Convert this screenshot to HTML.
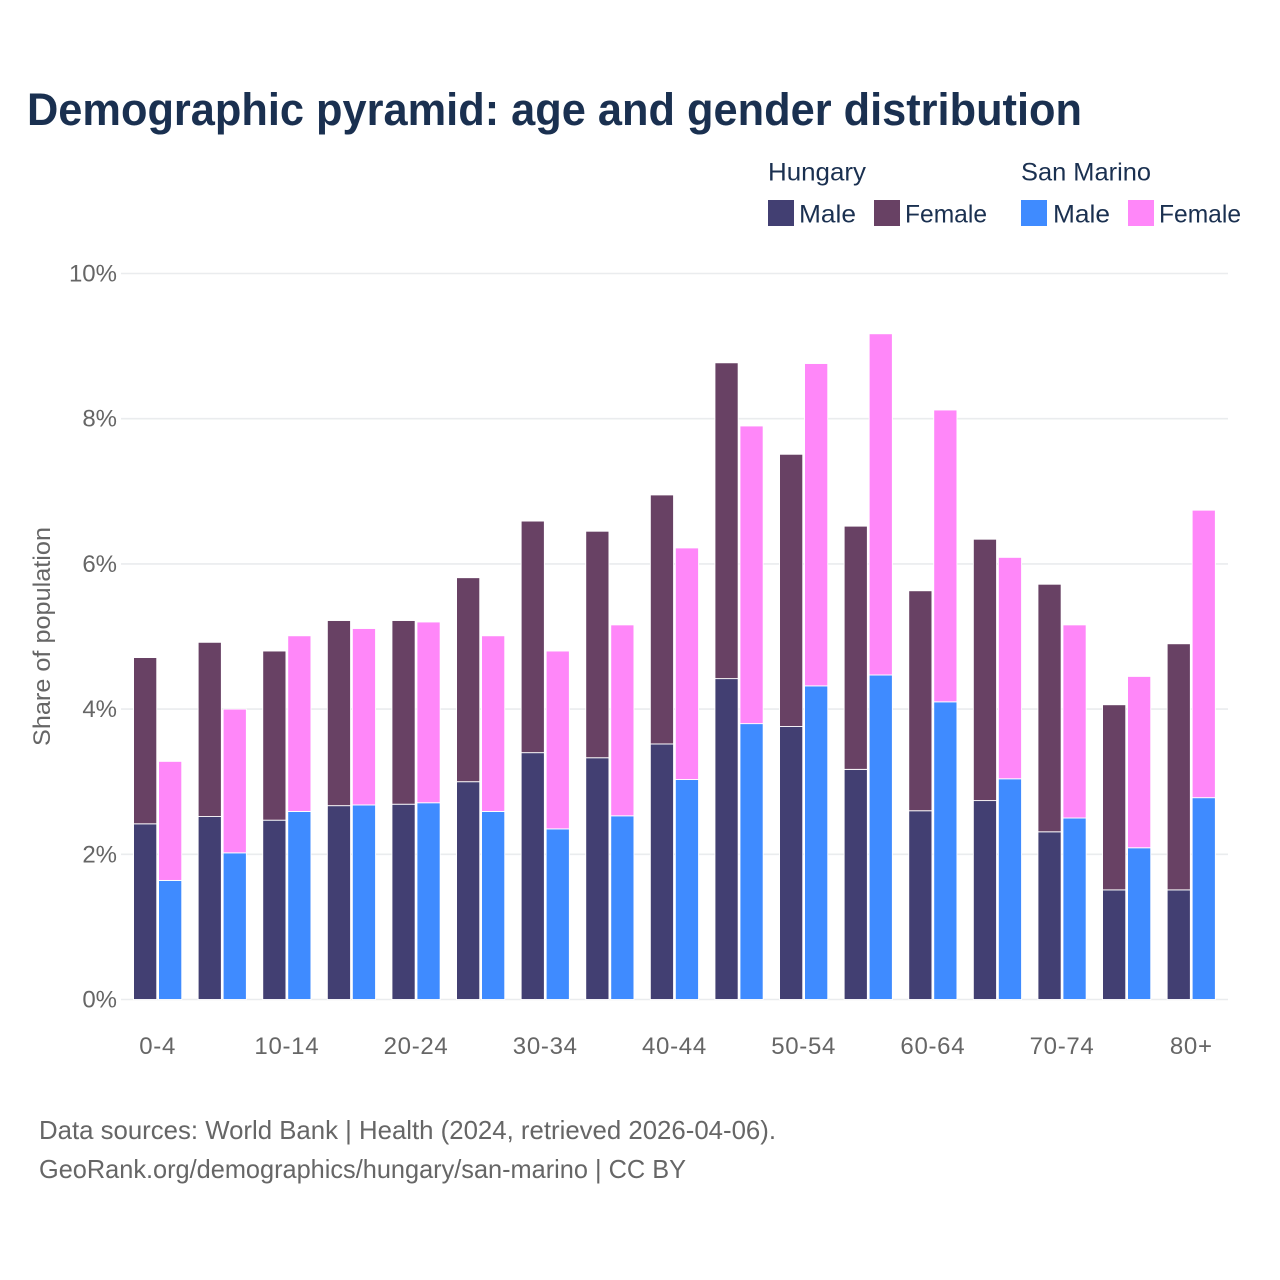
<!DOCTYPE html>
<html lang="en">
<head>
<meta charset="utf-8">
<title>Demographic pyramid</title>
<style>
html,body{margin:0;padding:0;background:#fff;width:1280px;height:1280px;overflow:hidden}
svg{display:block}
text{font-family:"Liberation Sans",sans-serif}
.title{font-size:45px;font-weight:700;fill:#1a3050}
.leg{font-size:25px;fill:#1a3050}
.tick{font-size:24px;fill:#666}
.foot{font-size:26px;fill:#666}
</style>
</head>
<body>
<svg id="chart" width="1280" height="1280" viewBox="0 0 1280 1280" xmlns="http://www.w3.org/2000/svg">
  <text class="title" x="27" y="125" textLength="1055" lengthAdjust="spacingAndGlyphs">Demographic pyramid: age and gender distribution</text>

  <text class="leg" x="768" y="180.5" textLength="98" lengthAdjust="spacingAndGlyphs">Hungary</text>
  <text class="leg" x="1021" y="180.5" textLength="130" lengthAdjust="spacingAndGlyphs">San Marino</text>

  <rect x="768" y="200" width="26" height="26" fill="#423f72"/>
  <text class="leg" x="799" y="222.5" textLength="57" lengthAdjust="spacingAndGlyphs">Male</text>
  <rect x="874" y="200" width="26" height="26" fill="#684164"/>
  <text class="leg" x="905" y="222.5" textLength="82" lengthAdjust="spacingAndGlyphs">Female</text>
  <rect x="1021" y="200" width="26" height="26" fill="#3f8bff"/>
  <text class="leg" x="1053" y="222.5" textLength="57" lengthAdjust="spacingAndGlyphs">Male</text>
  <rect x="1128" y="200" width="26" height="26" fill="#ff87f9"/>
  <text class="leg" x="1159" y="222.5" textLength="82" lengthAdjust="spacingAndGlyphs">Female</text>

  <g id="grid"></g>
  <g id="yticks"></g>
  <g id="bars"></g>
  <g id="xticks"></g>

  <text class="tick" x="0" y="0" transform="translate(50 636.5) rotate(-90)" text-anchor="middle" textLength="219" lengthAdjust="spacingAndGlyphs">Share of population</text>

  <text class="foot" x="39" y="1139" textLength="737" lengthAdjust="spacingAndGlyphs">Data sources: World Bank | Health (2024, retrieved 2026-04-06).</text>
  <text class="foot" x="39" y="1178" textLength="647" lengthAdjust="spacingAndGlyphs">GeoRank.org/demographics/hungary/san-marino | CC BY</text>
</svg>
<script>
const categories = ["0-4","5-9","10-14","15-19","20-24","25-29","30-34","35-39","40-44","45-49","50-54","55-59","60-64","65-69","70-74","75-79","80+"];
const hungaryMale = [2.42,2.52,2.47,2.67,2.69,3.00,3.40,3.33,3.52,4.42,3.76,3.17,2.60,2.74,2.31,1.51,1.51];
const hungaryFemale = [2.29,2.40,2.33,2.55,2.53,2.81,3.19,3.12,3.43,4.35,3.75,3.35,3.03,3.60,3.41,2.55,3.39];
const sanMarinoMale = [1.64,2.02,2.59,2.68,2.71,2.59,2.35,2.53,3.03,3.80,4.32,4.47,4.10,3.04,2.50,2.09,2.78];
const sanMarinoFemale = [1.64,1.98,2.42,2.43,2.49,2.42,2.45,2.63,3.19,4.10,4.44,4.70,4.02,3.05,2.66,2.36,3.96];
const yTickValues = [0,2,4,6,8,10];
const xTickLabels = ["0-4","10-14","20-24","30-34","40-44","50-54","60-64","70-74","80+"];

const NS = "http://www.w3.org/2000/svg";
const yScale = v => 999.5 - v * 72.6;
const xScale = i => 133.55 + i * 64.6;
const barWidth = 23.2;
const seriesOffset = 25;
const xCenter = c => xScale(categories.indexOf(c)) + 24.1;

function make(tag, attrs, parent) {
  const el = document.createElementNS(NS, tag);
  for (const k in attrs) el.setAttribute(k, attrs[k]);
  parent.appendChild(el);
  return el;
}

const gridG = document.getElementById("grid");
const yG = document.getElementById("yticks");
yTickValues.forEach(v => {
  const line = make("line", {x1: 121, x2: 1228, y1: yScale(v), y2: yScale(v), stroke: "#eaecee", "stroke-width": 1.6}, gridG);
  
  
  const t = make("text", {x: 117, y: yScale(v) + 8, "text-anchor": "end", class: "tick"}, yG);
  t.textContent = v + "%";
  
  
});

const barsG = document.getElementById("bars");
function stacked(lower, upper, offset, lowerColor, upperColor) {
  categories.forEach((c, i) => {
    const x = xScale(i) + offset;
    const y0 = yScale(0), y1 = yScale(lower[i]), y2 = yScale(lower[i] + upper[i]);
    const a = make("rect", {x: x, y: y1, width: barWidth, height: y0 - y1, fill: lowerColor, stroke: "#fff", "stroke-width": 0.9}, barsG);
    
    
    const b = make("rect", {x: x, y: y2, width: barWidth, height: y1 - y2, fill: upperColor, stroke: "#fff", "stroke-width": 0.9}, barsG);
    
    
  });
}
stacked(hungaryMale, hungaryFemale, 0, "#423f72", "#684164");
stacked(sanMarinoMale, sanMarinoFemale, seriesOffset, "#3f8bff", "#ff87f9");

const xG = document.getElementById("xticks");
xTickLabels.forEach(c => {
  const t = make("text", {x: xCenter(c), y: 1054, "text-anchor": "middle", class: "tick", style: "letter-spacing:.7px"}, xG);
  t.textContent = c;
  
  
});
</script>
</body>
</html>
